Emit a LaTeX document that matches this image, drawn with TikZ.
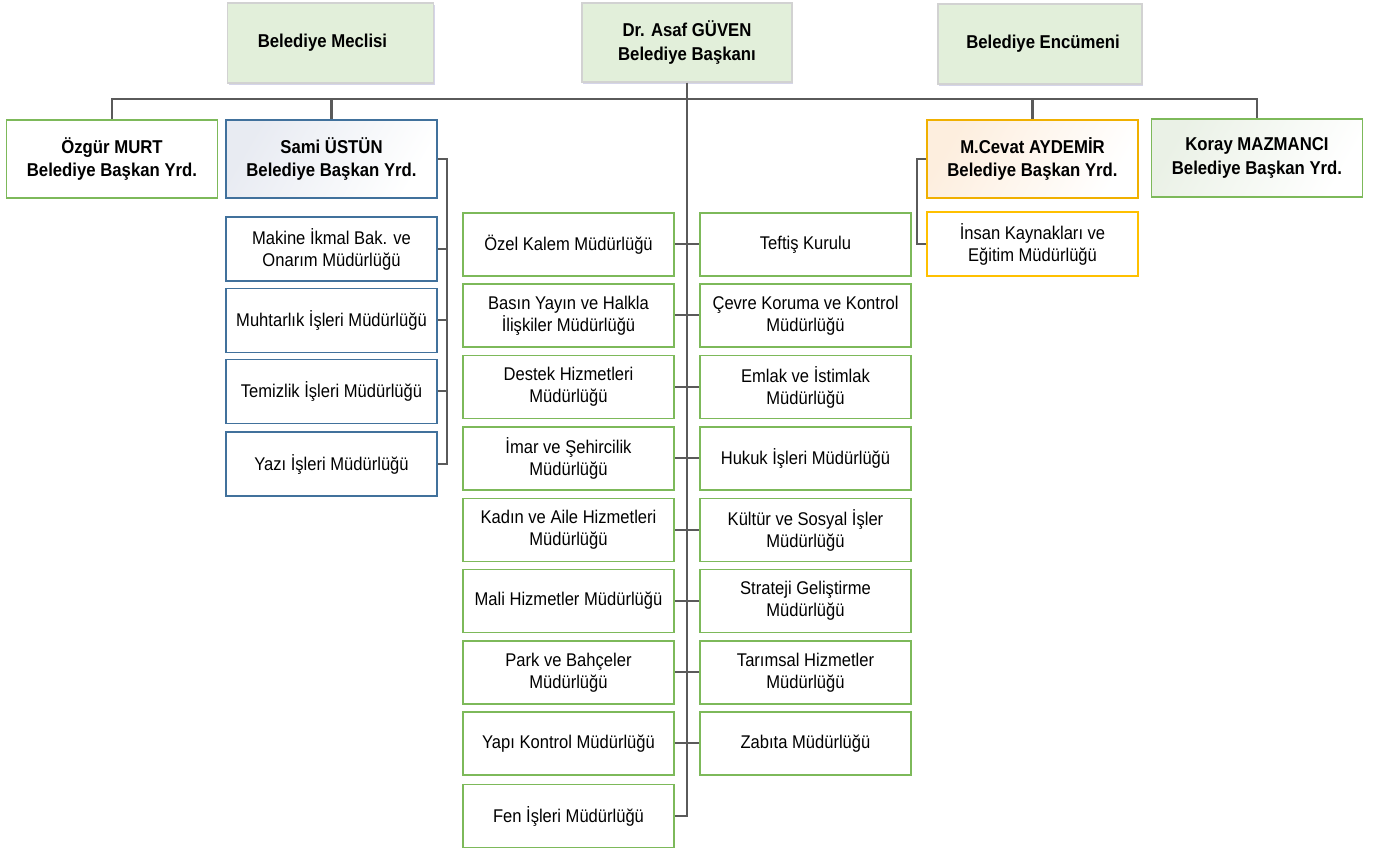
\documentclass[tikz,border=0pt]{standalone}
\usepackage{fontspec}
\setmainfont{Liberation Sans}[FakeStretch=0.9]
\usetikzlibrary{shadows}
\definecolor{topfill}{HTML}{E2EFDA}
\definecolor{topline}{HTML}{D2D2D2}
\definecolor{grn}{HTML}{7DB95A}
\definecolor{blu}{HTML}{41719C}
\definecolor{gold}{HTML}{F0B000}
\definecolor{ylw}{HTML}{FFC000}
\definecolor{conn}{HTML}{5A5A5A}
\tikzset{
  base/.style={inner sep=1pt, align=center, font=\fontsize{9.2pt}{11pt}\selectfont},
  topbox/.style={base, draw=topline, line width=0.6pt, fill=topfill, minimum width=103pt, minimum height=40pt,
     font=\fontsize{9.3pt}{12.2pt}\selectfont\bfseries,
     drop shadow={shadow xshift=0.6pt, shadow yshift=-1.2pt, fill=blue!30!gray, opacity=0.25}},
  vicebox/.style={base, line width=0.8pt, minimum width=105.5pt, minimum height=39pt,
     font=\fontsize{9.3pt}{11.6pt}\selectfont\bfseries},
  greenbox/.style={base, draw=grn, line width=0.8pt, fill=white, minimum width=105.5pt, minimum height=31.5pt},
  bluebox/.style={base, draw=blu, line width=0.7pt, fill=white, minimum width=105.5pt, minimum height=32pt},
  goldbox/.style={base, draw=ylw, line width=0.8pt, fill=white, minimum width=105.5pt, minimum height=32pt},
  wire/.style={draw=conn, line width=1pt},
  buswire/.style={draw=conn, line width=1.2pt}
}
\begin{document}
\begin{tikzpicture}[x=0.5pt, y=-0.5pt]
\useasboundingbox (0,0) rectangle (1373,849);

% top row
\node[topbox] (meclis) at (330.5,43) {\raisebox{1pt}{Belediye Meclisi}\hspace*{8pt}};
\node[topbox, minimum width=105pt, minimum height=39.5pt] (baskan) at (687,42.5) {Dr. Asaf GÜVEN\\Belediye Başkanı};
\node[topbox, minimum width=102pt] (encumen) at (1040,44) {\hspace*{3pt}\raisebox{1pt}{Belediye Encümeni}};

% deputies
\node[vicebox, draw=grn, fill=white] (ozgur) at (112,159) {Özgür MURT\\Belediye Başkan Yrd.};
\node[vicebox, draw=blu, left color={rgb,255:red,232;green,235;blue,242}, right color=white, shading angle=60] (sami) at (331.5,159) {Sami ÜSTÜN\\Belediye Başkan Yrd.};
\node[vicebox, draw=gold, left color={rgb,255:red,253;green,238;blue,222}, right color=white, shading angle=60] (cevat) at (1032.5,159) {M.Cevat AYDEMİR\\Belediye Başkan Yrd.};
\node[vicebox, draw=grn, left color={rgb,255:red,234;green,241;blue,230}, right color=white, shading angle=60] (koray) at (1257,158) {Koray MAZMANCI\\Belediye Başkan Yrd.};

% Sami's units
\node[bluebox] (makine) at (331.5,249) {Makine İkmal Bak. ve\\Onarım Müdürlüğü};
\node[bluebox] (muhtar) at (331.5,320.5) {Muhtarlık İşleri Müdürlüğü};
\node[bluebox] (temiz) at (331.5,391.5) {Temizlik İşleri Müdürlüğü};
\node[bluebox] (yazi) at (331.5,464) {Yazı İşleri Müdürlüğü};

% Cevat's unit
\node[goldbox] (insan) at (1032.5,244) {İnsan Kaynakları ve\\Eğitim Müdürlüğü};

% central units, left column
\node[greenbox] (ozel) at (568.5,244.5) {Özel Kalem Müdürlüğü};
\node[greenbox] (basin) at (568.5,315.5) {Basın Yayın ve Halkla\\İlişkiler Müdürlüğü};
\node[greenbox] (destek) at (568.5,387) {Destek Hizmetleri\\Müdürlüğü};
\node[greenbox] (imar) at (568.5,458.5) {İmar ve Şehircilik\\Müdürlüğü};
\node[greenbox] (kadin) at (568.5,530) {Kadın ve Aile Hizmetleri\\Müdürlüğü};
\node[greenbox] (mali) at (568.5,601) {Mali Hizmetler Müdürlüğü};
\node[greenbox] (park) at (568.5,672.5) {Park ve Bahçeler\\Müdürlüğü};
\node[greenbox] (yapi) at (568.5,743.5) {Yapı Kontrol Müdürlüğü};
\node[greenbox] (fen) at (568.5,816) {Fen İşleri Müdürlüğü};

% central units, right column
\node[greenbox] (teftis) at (805.5,244.5) {Teftiş Kurulu};
\node[greenbox] (cevre) at (805.5,315.5) {Çevre Koruma ve Kontrol\\Müdürlüğü};
\node[greenbox] (emlak) at (805.5,387) {Emlak ve İstimlak\\Müdürlüğü};
\node[greenbox] (hukuk) at (805.5,458.5) {Hukuk İşleri Müdürlüğü};
\node[greenbox] (kultur) at (805.5,530) {Kültür ve Sosyal İşler\\Müdürlüğü};
\node[greenbox] (strateji) at (805.5,601) {Strateji Geliştirme\\Müdürlüğü};
\node[greenbox] (tarim) at (805.5,672.5) {Tarımsal Hizmetler\\Müdürlüğü};
\node[greenbox] (zabita) at (805.5,743.5) {Zabıta Müdürlüğü};

% connectors
\coordinate (bus) at (687,99);
\coordinate (sr) at (447,159);
\coordinate (cl) at (917,159);

\draw[buswire] (ozgur.north) |- (bus) -| (koray.north);
\draw[buswire] (sami.north) -- (sami.north |- bus);
\draw[buswire] (cevat.north) -- (cevat.north |- bus);
\draw[wire] (baskan.south) -- (baskan.south |- fen.east) -- (fen.east);

\foreach \a/\b in {ozel/teftis, basin/cevre, destek/emlak, imar/hukuk, kadin/kultur, mali/strateji, park/tarim, yapi/zabita}
  \draw[wire] (\a.east) -- (\b.west);

\draw[wire] (sami.east) -- (sr) |- (yazi.east);
\foreach \c in {makine, muhtar, temiz}
  \draw[wire] (\c.east) -- (\c.east -| sr);

\draw[wire] (cevat.west) -- (cl) |- (insan.west);
\end{tikzpicture}
\end{document}
